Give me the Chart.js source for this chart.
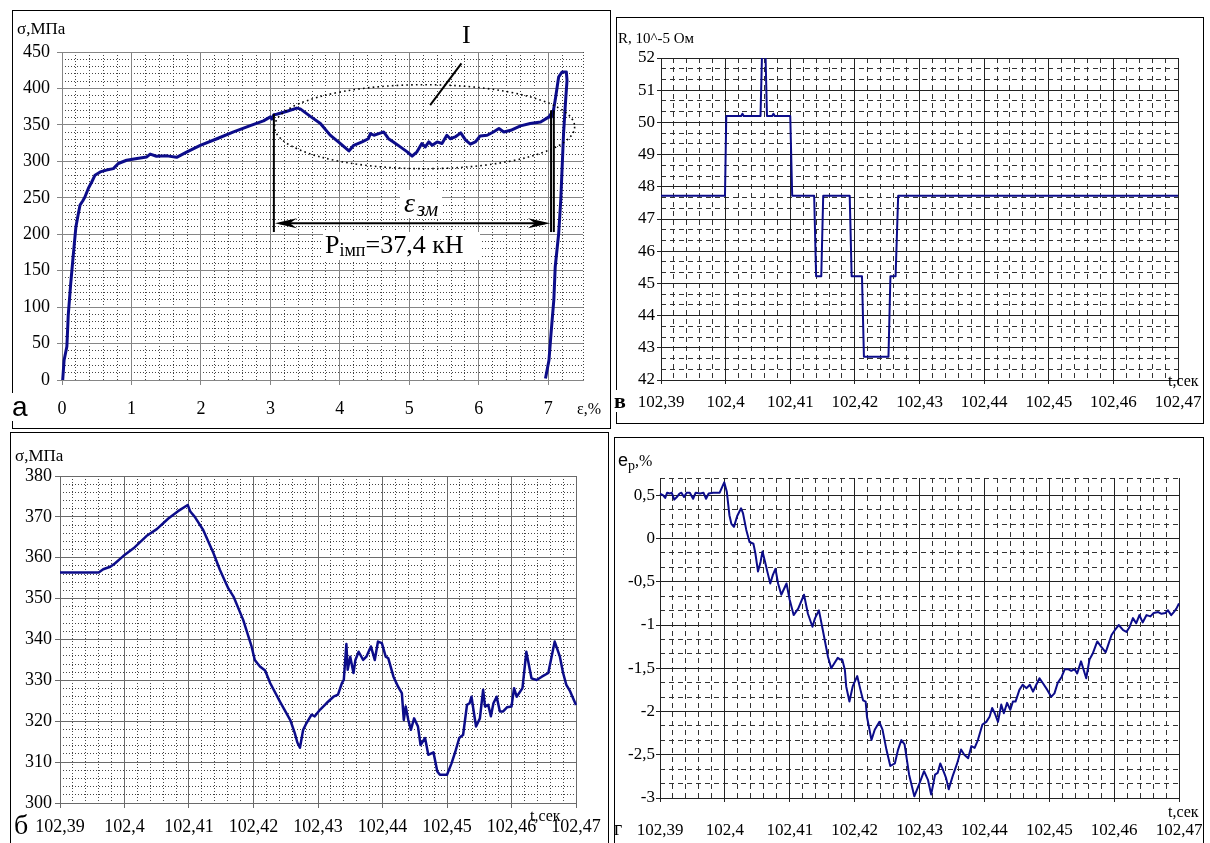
<!DOCTYPE html>
<html><head><meta charset="utf-8">
<script src="https://cdn.jsdelivr.net/npm/chart.js"></script>
<style>
html,body{margin:0;padding:0;background:#fff;width:1210px;height:843px;overflow:hidden;position:relative}
canvas{position:absolute}
.fr{position:absolute;border:1px solid #000;box-sizing:border-box;pointer-events:none}
.t{position:absolute;line-height:1;white-space:nowrap;font-family:'Liberation Serif','Times New Roman',serif;color:#000}
.box{position:absolute;background:#fff}
</style></head><body>
<canvas id="cA"></canvas>
<canvas id="cV"></canvas>
<canvas id="cB"></canvas>
<canvas id="cG"></canvas>

<div class="fr" style="left:12px;top:10px;width:599px;height:419px"></div>
<div class="fr" style="left:616px;top:17px;width:588px;height:407px"></div>
<div class="fr" style="left:10px;top:432px;width:599px;height:430px"></div>
<div class="fr" style="left:614px;top:437px;width:590px;height:430px"></div>

<!-- panel а -->
<div class="t" style="left:17px;top:20px;font-size:17px">σ,МПа</div>
<div class="t" style="left:577px;top:401px;font-size:16px">ε,%</div>
<div class="t" style="left:11px;top:393px;font-size:28px;font-family:'Liberation Sans',Arial,sans-serif;background:#fff;padding:0 1px">а</div>
<div class="t" style="left:462px;top:22px;font-size:26px">I</div>
<div class="box" style="left:400px;top:190px;width:42px;height:28px"><span class="t" style="left:4px;top:-1px;font-size:28px;font-style:italic">ε</span><span class="t" style="left:17px;top:9px;font-size:21px;font-style:italic">зм</span></div>
<div class="box" style="left:323px;top:232px;width:157px;height:28px"><span class="t" style="left:2px;top:0px;font-size:26px">P<span style="font-size:18px;position:relative;top:3px">імп</span>=37,4 кН</span></div>

<!-- panel в -->
<div class="t" style="left:618px;top:31px;font-size:15px">R, 10^-5 Ом</div>
<div class="t" style="left:614px;top:390px;font-size:22px;font-weight:bold;background:#fff">в</div>
<div class="t" style="left:1168px;top:373px;font-size:16px">t,сек</div>

<!-- panel б -->
<div class="t" style="left:15px;top:447px;font-size:17px">σ,МПа</div>
<div class="t" style="left:530px;top:808px;font-size:16px">t,сек</div>
<div class="t" style="left:14px;top:811px;font-size:28px">б</div>

<!-- panel г -->
<div class="t" style="left:618px;top:451px;font-size:18px"><span style="font-family:'Liberation Sans',Arial,sans-serif">e</span><span style="font-size:14px;position:relative;top:4px">p</span><span style="font-size:16px">,%</span></div>
<div class="t" style="left:1168px;top:804px;font-size:16px">t,сек</div>
<div class="t" style="left:614px;top:818px;font-size:20px">г</div>

<script>
// ---------- panel а: stress–strain ----------
const strainA = [0.01,0.03,0.07,0.09,0.125,0.16,0.2,0.235,0.26,0.3,0.33,0.38,0.43,0.475,0.55,0.64,0.74,0.81,0.93,1.08,1.22,1.27,1.36,1.51,1.65,1.8,1.99,2.23,2.47,2.71,2.9,3.0,3.02,3.05,3.09,3.24,3.38,3.43,3.57,3.72,3.86,4.0,4.13,4.2,4.32,4.41,4.44,4.49,4.56,4.63,4.7,4.77,4.87,4.97,5.04,5.11,5.18,5.23,5.28,5.33,5.4,5.47,5.54,5.59,5.66,5.74,5.81,5.88,5.95,6.02,6.12,6.21,6.29,6.36,6.46,6.6,6.74,6.89,7.01,7.06,7.04,7.08,7.06,7.1,7.15,7.2,7.26,7.27,7.25,7.22,7.18,7.15,7.1,7.08,7.04,7.01,6.96];
const stressA = [0,27,46,89,132,169,210,228,240,246,251,263,272,281,285.5,288,290,297,301.5,304,306,310,307,307.5,305.5,313,322,331,340.5,349,355.5,361,358,364,364.6,368.7,373,372,362,352,336,325,314.3,322,326.6,331,338,335.8,338,340.3,331,326.6,319.8,313,307,313,324.4,319.8,326.6,322,326.6,324.4,335.8,331,333.5,339,329,323.5,326.6,334.9,335.8,340.3,345,340.3,342.6,348.6,351.8,354,361,367.8,360,372,362,384,416,422.6,422.6,411,384,338,247,201,155,110,64,27,2];
const rangeStrainA = [0, 7.5, 1, 0.2];      // min, max, major step, minor step
const rangeStressA = [0, 450, 50, 10];
// annotations of panel а (data coordinates)
const markerEps = [3.05, 7.04, 7.08];
const markerTop = [365, 370, 370];
const markerBottom = 203;
const arrowEps = [3.05, 7.04];
const arrowSigma = 215;
const ellipseA = [5.22, 347.5, 2.16, 57.6]; // centre ε, centre σ, radius ε, radius σ
const pointerA = [[5.30, 377], [5.75, 434.5]];

// ---------- panel б: stress vs time ----------
const timeB = [102.39,102.396,102.3967,102.3978,102.3985,102.3998,102.4014,102.4034,102.405,102.4068,102.4083,102.4098,102.4102,102.4109,102.4122,102.4138,102.4148,102.4161,102.4169,102.4184,102.4197,102.4202,102.421,102.4218,102.4226,102.4241,102.4257,102.4264,102.4268,102.4272,
 102.4277,102.4282,102.429,102.4295,102.4303,102.4313,102.4324,102.4331,102.4337,102.434,102.4344,102.4346,102.435,102.4352,102.4355,102.4358,102.4363,102.437,102.4375,102.4382,102.4388,102.4393,102.4399,102.4405,102.4409,102.4417,102.4424,102.443,102.4433,102.4436,102.444,102.4444,102.4449,102.4455,102.4459,102.4466,102.4471,102.4479,102.4485,102.4489,102.45,102.4507,102.4513,102.4519,102.4525,102.4531,102.4535,102.4538,102.4541,102.4545,102.4551,102.4556,102.4559,102.4564,102.4568,102.4572,102.4577,102.4582,102.4587,102.4593,102.46,102.4604,102.4608,102.4617,102.4623,102.4631,102.4639,102.4647,102.4657,102.4667,102.4675,102.468,102.4685,102.4691,102.47];
const stressB = [356.4,356.4,357.2,357.8,358.6,360.4,362.3,365.3,367,369.6,371.4,372.9,371.3,370,366.8,361.1,357,352.5,350.5,344.8,338.3,335,333.4,332.4,329.3,324.8,320.3,317.1,314.8,313.5,
 317.9,319.5,321.6,321.2,322.8,324.4,326.0,326.5,329.3,330.1,338.9,332.6,335.8,334.2,331.8,335,337,335,335.8,338.3,335,339.5,339.1,335.8,335.4,330.9,328.5,326.9,320.3,323.6,320.3,317.9,320.7,318.7,314.2,315.9,311.8,312.4,307.7,306.9,306.9,309.7,312.6,315.9,316.7,324,324.4,326,322.8,318.7,320.7,327.7,323.6,324,321.2,324.4,326,322.4,322.4,323.4,323.6,328.1,326,328.1,337,330.5,330.1,330.9,331.8,339.5,335.8,331.8,328.9,327.3,324];
const rangeTime = [102.39, 102.47, 0.01, 0.002];
const rangeStressB = [300, 380, 10, 2];

// ---------- panel в: resistance vs time ----------
const timeV = [102.39,102.3999,102.4001,102.4024,102.4026,102.4028,102.4054,102.4057,102.4061,102.4064,102.4072,102.4074,102.4076,102.41,102.4103,102.4137,102.414,102.4148,102.4151,102.4192,102.4195,102.4211,102.4214,102.4252,102.4255,102.4263,102.4267,102.47];
const resistV = [47.72,47.72,50.2,50.2,50.27,50.2,50.2,52.7,52.7,50.2,50.2,50.27,50.2,50.2,47.72,47.72,45.22,45.22,47.72,47.72,45.22,45.22,42.72,42.72,45.22,45.22,47.72,47.72];
const rangeResistV = [42, 52, 1, 1/3];

// ---------- panel г: e_p vs time ----------
const timeG = [102.39,102.3905,102.3908,102.3911,102.3915,102.3918,102.3922,102.3926,102.393,102.3933,102.3937,102.3941,102.3946,102.3951,102.3955,102.3962,102.3967,102.3971,102.3975,102.3982,102.3992,
 102.3999,102.4003,102.4007,102.401,102.4014,102.4019,102.4025,102.4028,102.4033,102.4038,
 102.4044,102.4047,102.4051,102.4055,102.4058,102.4062,102.4066,102.407,102.4074,102.4078,
 102.4082,102.4087,102.4095,102.41,102.4106,102.4113,102.4122,102.4128,102.4135,102.4139,
 102.4145,102.4151,102.4159,102.4164,102.4169,102.4174,102.4178,102.4181,102.4185,102.4187,
 102.4192,102.4197,102.4204,102.4209,102.4213,102.4217,102.4219,102.4226,102.4231,102.4238,
 102.4243,102.4249,102.4255,102.4262,102.4267,102.4272,102.4277,102.4284,102.4292,102.43,
 102.4307,102.4313,102.4318,102.4324,102.4328,102.4332,102.4338,102.4341,102.4345,102.4351,
 102.4358,102.4364,102.4369,102.4375,102.438,102.4385,102.439,102.4397,102.4403,102.4408,
 102.4412,102.4416,102.4421,102.4426,102.443,102.4435,102.444,102.4444,102.4448,102.4454,
 102.4459,102.4465,102.447,102.4475,102.448,102.4485,102.449,102.4497,102.4503,102.4508,
 102.4513,102.4519,102.4524,102.4529,102.4534,102.4539,102.4543,102.4549,102.4557,102.4562,
 102.4567,102.4574,102.458,102.4587,102.459,102.4596,102.4601,102.4607,102.4614,102.4619,
 102.4624,102.4629,102.4634,102.4639,102.4644,102.465,102.4656,102.4661,102.4668,102.4673,
 102.4679,102.4683,102.4688,102.4692,102.4696,102.47];
const strainG = [0.52,0.5,0.47,0.53,0.52,0.53,0.45,0.48,0.52,0.53,0.48,0.53,0.53,0.46,0.53,0.52,0.53,0.46,0.52,0.53,0.53,
 0.65,0.54,0.27,0.17,0.135,0.26,0.35,0.29,0.1,-0.04,
 -0.06,-0.17,-0.38,-0.27,-0.15,-0.27,-0.4,-0.52,-0.42,-0.35,
 -0.52,-0.65,-0.52,-0.71,-0.885,-0.81,-0.65,-0.87,-1.02,-0.92,
 -0.83,-1.06,-1.37,-1.5,-1.44,-1.38,-1.4,-1.4,-1.52,-1.71,
 -1.885,-1.71,-1.59,-1.75,-1.87,-1.885,-2.06,-2.33,-2.21,-2.12,
 -2.21,-2.44,-2.63,-2.6,-2.44,-2.33,-2.38,-2.73,-2.98,-2.83,
 -2.69,-2.79,-2.96,-2.73,-2.71,-2.6,-2.71,-2.77,-2.9,-2.75,
 -2.6,-2.44,-2.5,-2.54,-2.4,-2.42,-2.33,-2.15,-2.12,-2.06,
 -1.96,-2.02,-2.12,-1.92,-2.02,-1.9,-1.98,-1.885,-1.885,-1.75,
 -1.69,-1.73,-1.69,-1.77,-1.69,-1.615,-1.67,-1.75,-1.83,-1.79,
 -1.67,-1.6,-1.51,-1.51,-1.53,-1.51,-1.56,-1.42,-1.615,-1.4,
 -1.33,-1.19,-1.25,-1.315,-1.25,-1.115,-1.06,-1.0,-1.06,-1.08,
 -1.02,-0.92,-0.98,-0.885,-0.97,-0.885,-0.9,-0.86,-0.85,-0.87,
 -0.86,-0.83,-0.885,-0.85,-0.81,-0.75];
const rangeStrainG = [-3, 0.7, 0.5, 1/6];

// ---------- helpers ----------
Chart.defaults.font.family = "'Liberation Serif','Times New Roman',serif";
Chart.defaults.color = '#000';
const navy = '#0c0c8a';
const commaFmt = v => String(Number(Number(v).toFixed(2))).replace('.', ',');
const intFmt = v => String(Math.round(v));

function build(id, box, area, o) {
  const cv = document.getElementById(id);
  cv.width = box.w; cv.height = box.h;
  cv.style.left = box.x + 'px'; cv.style.top = box.y + 'px';
  cv.style.width = box.w + 'px'; cv.style.height = box.h + 'px';
  const zero = s => { s.paddingLeft = 0; s.paddingRight = 0; s.paddingTop = 0; s.paddingBottom = 0; };
  const fitW = w => s => { s.width = w; zero(s); };
  const fitH = h => s => { s.height = h; zero(s); };
  const yW = area.l - box.x, xH = box.y + box.h - area.b;
  const n = Math.min(o.xs.length, o.ys.length);
  const data = [];
  for (let i = 0; i < n; i++) data.push({x: o.xs[i], y: o.ys[i]});
  const major = () => ({color: o.major, lineWidth: 1, tickLength: o.tl, drawTicks: true});
  return new Chart(cv, {
    type: 'scatter',
    data: {datasets: [{data, showLine: true, borderColor: o.color, borderWidth: o.lw,
      pointRadius: 0, pointHoverRadius: 0, tension: 0, fill: false, clip: o.clip,
      borderJoinStyle: 'round', borderCapStyle: 'butt'}]},
    options: {
      responsive: false, maintainAspectRatio: false, animation: false, events: [],
      layout: {padding: {left: 0, bottom: 0, top: area.t - box.y, right: box.x + box.w - area.r}},
      plugins: {legend: {display: false}, tooltip: {enabled: false}, title: {display: false}},
      scales: {
        xMinor: {type: 'linear', position: 'bottom', min: o.xr[0], max: o.xr[1], afterFit: fitH(0),
          ticks: {display: false, stepSize: o.xr[3], includeBounds: true},
          grid: {color: o.minor, lineWidth: 1, drawTicks: false, z: -2},
          border: {display: false, dash: o.dash}},
        yMinor: {type: 'linear', position: 'left', min: o.yr[0], max: o.yr[1], afterFit: fitW(0),
          ticks: {display: false, stepSize: o.yr[3], includeBounds: true},
          grid: {color: o.minor, lineWidth: 1, drawTicks: false, z: -2},
          border: {display: false, dash: o.dash}},
        x: {type: 'linear', position: 'bottom', min: o.xr[0], max: o.xr[1], afterFit: fitH(xH),
          ticks: {stepSize: o.xr[2], includeBounds: false, autoSkip: false, maxRotation: 0, minRotation: 0,
            padding: o.xPad, font: {size: o.fs}, color: '#000', callback: o.xFmt},
          grid: major(), border: {display: true, color: o.major, width: 1}},
        y: {type: 'linear', position: 'left', min: o.yr[0], max: o.yr[1], afterFit: fitW(yW),
          ticks: {stepSize: o.yr[2], includeBounds: false, autoSkip: false,
            padding: o.yPad, font: {size: o.fs}, color: '#000', callback: o.yFmt},
          grid: major(), border: {display: true, color: o.major, width: 1}}
      }
    },
    plugins: o.plugins || []
  });
}

const annotA = {
  id: 'annotA',
  afterDatasetsDraw(chart) {
    const {ctx, scales: {x, y}} = chart;
    const px = v => x.getPixelForValue(v), py = v => y.getPixelForValue(v);
    ctx.save();
    ctx.strokeStyle = '#000'; ctx.fillStyle = '#000';
    // dotted ellipse (region I)
    ctx.lineWidth = 1.6; ctx.setLineDash([1.6, 3.2]);
    ctx.beginPath();
    ctx.ellipse(px(ellipseA[0]), py(ellipseA[1]),
      px(ellipseA[0] + ellipseA[2]) - px(ellipseA[0]),
      py(ellipseA[1]) - py(ellipseA[1] + ellipseA[3]), 0, 0, Math.PI * 2);
    ctx.stroke();
    ctx.setLineDash([]);
    // vertical markers
    ctx.lineWidth = 2;
    markerEps.forEach((e, i) => {
      ctx.beginPath(); ctx.moveTo(px(e), py(markerTop[i])); ctx.lineTo(px(e), py(markerBottom)); ctx.stroke();
    });
    // double arrow
    const x1 = px(arrowEps[0]), x2 = px(arrowEps[1]), ya = py(arrowSigma);
    ctx.beginPath(); ctx.moveTo(x1 + 6, ya); ctx.lineTo(x2 - 6, ya); ctx.stroke();
    const head = (tip, dir) => {
      ctx.beginPath(); ctx.moveTo(tip, ya); ctx.lineTo(tip + dir * 22, ya - 5);
      ctx.lineTo(tip + dir * 15, ya); ctx.lineTo(tip + dir * 22, ya + 5); ctx.closePath(); ctx.fill();
    };
    head(x1 + 1, 1); head(x2 - 1, -1);
    // pointer to region I
    ctx.beginPath(); ctx.moveTo(px(pointerA[0][0]), py(pointerA[0][1]));
    ctx.lineTo(px(pointerA[1][0]), py(pointerA[1][1])); ctx.stroke();
    ctx.restore();
  }
};

// panel а
build('cA', {x: 13, y: 11, w: 596, h: 416}, {l: 62, t: 52, r: 583, b: 380}, {
  xs: strainA, ys: stressA, xr: rangeStrainA, yr: rangeStressA,
  color: navy, lw: 3, clip: false, major: '#858585', minor: '#444', dash: [1, 2],
  tl: 5, xPad: 13, yPad: 7, fs: 18, xFmt: intFmt, yFmt: intFmt, plugins: [annotA]
});
// panel в
build('cV', {x: 617, y: 18, w: 585, h: 404}, {l: 661, t: 58, r: 1178, b: 380}, {
  xs: timeV, ys: resistV, xr: rangeTime, yr: rangeResistV,
  color: navy, lw: 2, clip: {left: 2, top: 0, right: 2, bottom: 2}, major: '#222', minor: '#333', dash: [5, 4],
  tl: 4, xPad: 8, yPad: 2, fs: 17, xFmt: commaFmt, yFmt: intFmt
});
// panel б
build('cB', {x: 11, y: 433, w: 596, h: 410}, {l: 60, t: 476, r: 576, b: 803}, {
  xs: timeB, ys: stressB, xr: rangeTime, yr: rangeStressB,
  color: navy, lw: 2.5, clip: false, major: '#6a6a6a', minor: '#444', dash: [1, 2],
  tl: 5, xPad: 8, yPad: 3, fs: 18, xFmt: commaFmt, yFmt: intFmt
});
// panel г
build('cG', {x: 615, y: 438, w: 587, h: 405}, {l: 660, t: 478, r: 1179, b: 798}, {
  xs: timeG, ys: strainG, xr: rangeTime, yr: rangeStrainG,
  color: navy, lw: 2, clip: false, major: '#222', minor: '#333', dash: [5, 4],
  tl: 4, xPad: 18, yPad: 1, fs: 17, xFmt: commaFmt, yFmt: commaFmt
});
</script>
</body></html>
